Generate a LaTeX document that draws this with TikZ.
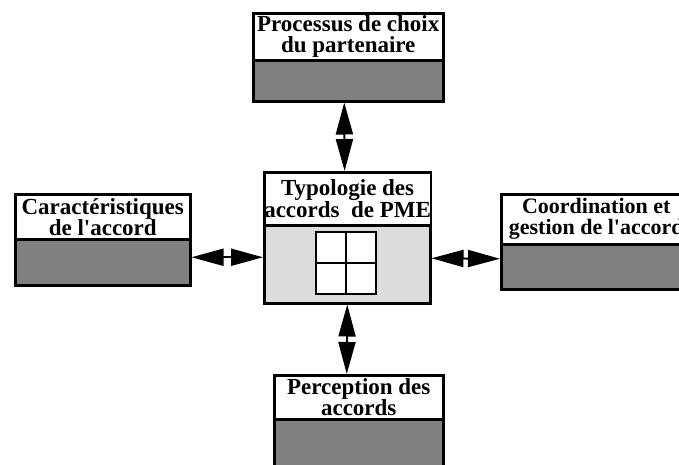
\documentclass[tikz,border=0pt]{standalone}
\usepackage{fontspec}
\setmainfont{Liberation Serif}
\usetikzlibrary{arrows.meta}
\definecolor{grayfill}{HTML}{808080}
\definecolor{lightfill}{HTML}{DCDCDC}
\tikzset{
  box/.style={draw=black, line width=2.5pt, rectangle, inner sep=0pt, anchor=north west},
  head/.style={box, fill=white, align=center, font=\fontsize{23}{21}\selectfont\bfseries},
  body/.style={box, fill=grayfill},
  dblarrow/.style={{Triangle[length=32pt,width=17pt]}-{Triangle[length=32pt,width=17pt]}, line width=2pt},
}
\begin{document}
\begin{tikzpicture}[x=1pt,y=-1pt]
\clip (0,0) rectangle (679,464);
\fill[white] (0,0) rectangle (679,464);
% top
\node[head, minimum width=190pt, minimum height=47pt] (tophead) at (252,12) {Processus de choix\\du partenaire};
\node[body, minimum width=190pt, minimum height=41pt] (topbody) at (252,59) {};
% centre
\node[head, minimum width=166pt, minimum height=53pt] (ctrhead) at (263,171) {Typologie des\\accords\ \ de PME};
\node[body, fill=lightfill, minimum width=166pt, minimum height=78pt] (ctrbody) at (263,224) {};
\node[draw=black, fill=white, line width=2.5pt, minimum width=60pt, minimum height=62pt, inner sep=0pt] (win) at (346,263) {};
\draw[line width=2.5pt] (win.north) -- (win.south);
\draw[line width=2.5pt] (win.west) -- (win.east);
% left
\node[head, minimum width=175pt, minimum height=45pt] (lefthead) at (14,193) {Caractéristiques\\de l\textquotesingle accord};
\node[body, minimum width=175pt, minimum height=46pt] (leftbody) at (14,238) {};
% right
\node[head, font=\fontsize{22}{21}\selectfont\bfseries, minimum width=190pt, minimum height=50pt] (righthead) at (500,193) {Coordination et\\gestion de l\textquotesingle accord};
\node[body, minimum width=190pt, minimum height=45pt] (rightbody) at (500,243) {};
% bottom
\node[head, minimum width=169pt, minimum height=44pt] (bothead) at (273,374) {Perception des\\accords};
\node[body, minimum width=169pt, minimum height=60pt] (botbody) at (273,418) {};
% arrows
\draw[dblarrow] ([xshift=-4pt]topbody.south) -- ([xshift=-3pt]ctrhead.north);
\draw[dblarrow] (ctrbody.south) -- ([xshift=-12pt]bothead.north);
\draw[dblarrow] ([yshift=5pt]leftbody.east) -- ([yshift=7pt]ctrbody.west);
\draw[dblarrow] ([yshift=6pt]ctrbody.east) -- ([yshift=8pt]rightbody.west);
\end{tikzpicture}
\end{document}
